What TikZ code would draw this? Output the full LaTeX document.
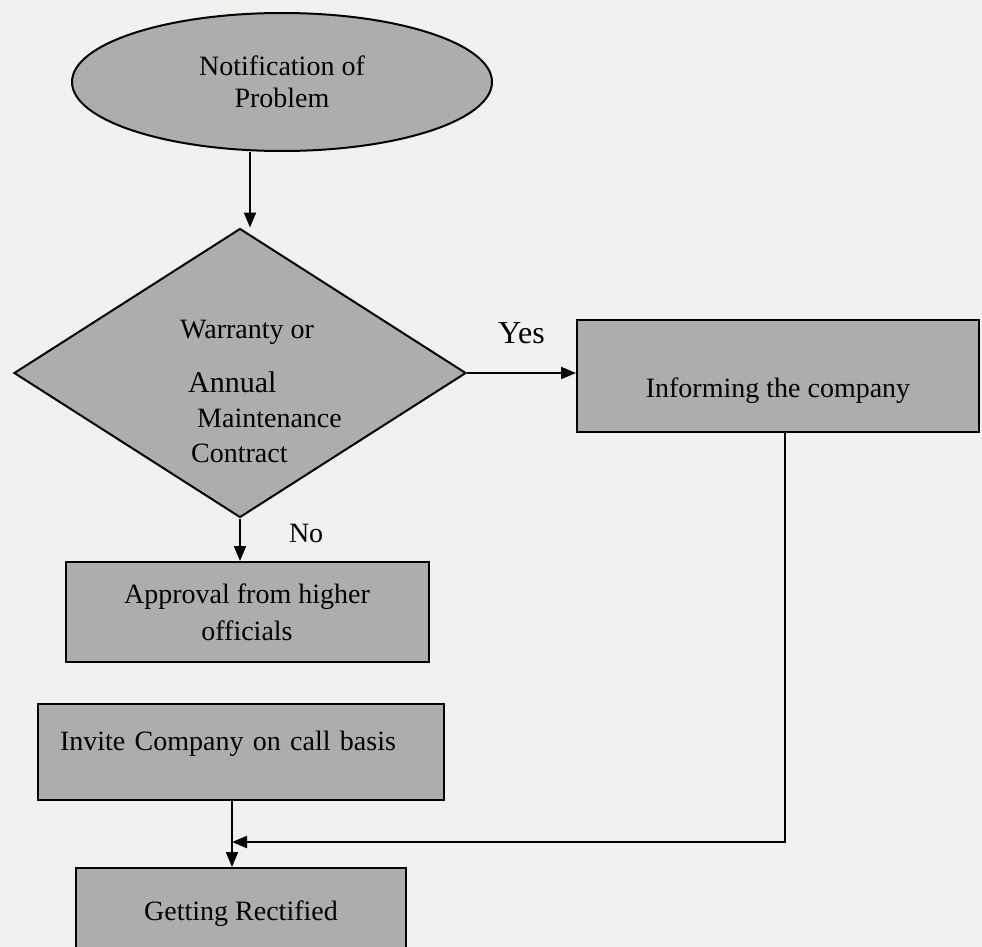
\documentclass[tikz,border=0pt]{standalone}
\usepackage{fontspec}
\setmainfont{Liberation Serif}
\usepackage{xcolor}
\usetikzlibrary{arrows.meta, positioning, shapes.geometric}
\definecolor{boxgray}{HTML}{ADADAD}
\definecolor{paper}{HTML}{F1F1EF}

\begin{document}
\begin{tikzpicture}[
    x=1pt, y=-1pt,
    every node/.style={font=\fontsize{28}{34}\selectfont},
    blk/.style={draw, line width=2pt, fill=boxgray, inner sep=0pt, align=center},
    proc/.style={blk, rectangle},
    start/.style={blk, ellipse},
    decide/.style={blk, diamond},
    lbl/.style={inner sep=0pt},
    arr/.style={-{Triangle[length=15pt,width=12pt]}, line width=2pt}
]
    \useasboundingbox (0,0) rectangle (982,947);
    \clip (0,0) rectangle (982,947);
    \fill[paper] (0,0) rectangle (982,947);

    % Start und Entscheidung
    \node[start, minimum width=420pt, minimum height=138pt, font=\fontsize{28}{32}\selectfont] (note) at (282,82) {Notification of\\Problem};
    \node[decide, minimum width=452pt, minimum height=289pt] (dec) at (240,373) {};
    \node[lbl, anchor=north west, align=left, font=\fontsize{28}{35}\selectfont] (dectxt) at (180,320)
        {Warranty or\\[19pt]\hspace*{8pt}{\fontsize{30}{35}\selectfont Annual}\\\hspace*{17pt}Maintenance\\\hspace*{11pt}Contract};

    % Prozessschritte
    \node[proc, minimum width=402pt, minimum height=112pt, text height=48pt, text depth=6pt] (inf) at (778,376) {Informing the company};
    \node[proc, minimum width=363pt, minimum height=100pt, font=\fontsize{28}{37}\selectfont] (appr) at (247,612) {Approval from higher\\officials};
    \node[proc, minimum width=406pt, minimum height=96pt, inner xsep=22pt, text width=362pt, align=left,
          text height=19pt, text depth=23pt] (inv) at (241,752) {Invite Company on call basis};
    \node[proc, minimum width=330pt, minimum height=92pt] (rect) at (241,914) {Getting Rectified};

    \coordinate (join) at (232,842);

    % Verbindungen
    \draw[arr] ([xshift=-32pt]note.south) -- ([xshift=-32pt]note.south |- dec.north);
    \draw[arr] (dec.east) -- (dec.east -| inf.west) node[lbl, midway, above=28pt, font=\fontsize{32}{38}\selectfont]{Yes};
    \draw[arr] (dec.south) -- (dec.south |- appr.north) node[lbl, pos=0.35, right=48pt]{No};
    \draw[arr] (inv.south -| join) -- (rect.north -| join);
    \draw[arr] ([xshift=7pt]inf.south) |- (join);
\end{tikzpicture}
\end{document}
